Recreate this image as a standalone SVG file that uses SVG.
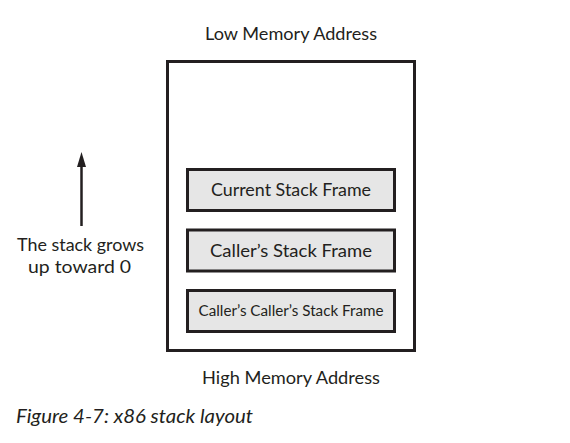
<svg xmlns="http://www.w3.org/2000/svg" width="570" height="443" viewBox="0 0 570 443">
<style>
text{font-family:Lato,"Liberation Sans",sans-serif;fill:#231f20;}
.c{text-anchor:middle;}
.frame{fill:#e6e6e6;stroke:#231f20;stroke-width:3;}
</style>
<rect width="570" height="443" fill="#fff"/>
<g id="stack">
<rect x="167.5" y="61.5" width="247" height="289" fill="none" stroke="#231f20" stroke-width="3"/>
</g>
<g id="current">
<rect class="frame" x="187.5" y="169.5" width="207" height="41"/>
<text class="c" x="291" y="196" font-size="17" textLength="160" lengthAdjust="spacingAndGlyphs">Current Stack Frame</text>
</g>
<g id="caller">
<rect class="frame" x="187.5" y="230" width="207" height="41"/>
<text class="c" x="291" y="256.5" font-size="18" textLength="162" lengthAdjust="spacingAndGlyphs">Caller’s Stack Frame</text>
</g>
<g id="callercaller">
<rect class="frame" x="187.5" y="290.5" width="207" height="41"/>
<text class="c" x="291" y="316" font-size="14.5" textLength="185" lengthAdjust="spacingAndGlyphs">Caller’s Caller’s Stack Frame</text>
</g>
<g id="connectors">
<line x1="81.5" y1="226" x2="81.5" y2="164" stroke="#231f20" stroke-width="2.5"/>
<polygon points="81.5,152 77,167 86,167" fill="#231f20"/>
</g>
<text class="c" x="291" y="40" font-size="18" textLength="172" lengthAdjust="spacingAndGlyphs">Low Memory Address</text>
<text class="c" x="291" y="384" font-size="18" textLength="178" lengthAdjust="spacingAndGlyphs">High Memory Address</text>
<text class="c" x="80.5" y="251" font-size="18" textLength="127" lengthAdjust="spacingAndGlyphs">The stack grows</text>
<text class="c" x="79.5" y="273" font-size="18" textLength="103" lengthAdjust="spacingAndGlyphs">up toward 0</text>
<text x="16" y="423" font-size="19" font-style="italic" textLength="237" lengthAdjust="spacingAndGlyphs">Figure 4-7: x86 stack layout</text>
</svg>
